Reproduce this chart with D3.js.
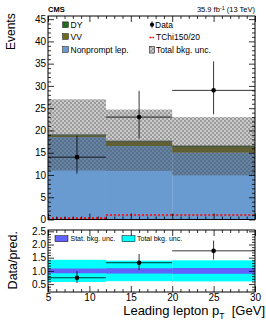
<!DOCTYPE html>
<html><head><meta charset="utf-8">
<script src="https://cdnjs.cloudflare.com/ajax/libs/d3/7.8.5/d3.min.js"></script>
<style>
html,body{margin:0;padding:0;background:#fff;}
svg{display:block;font-family:"Liberation Sans",Arial,sans-serif;}
</style></head>
<body>
<svg id="c" width="266" height="322"></svg>
<script>
// ---- data ----
const binEdges = [5, 12, 20, 30];
const nonprompt = [18.5, 16.5, 15.0];
const vv = [0.4, 1.0, 1.3];
const dy = [0.1, 0.1, 0.2];
const totUncLow = [11.0, 10.9, 9.9];
const totUncHigh = [27.0, 24.7, 23.0];
const dataX = [8.5, 16, 25];
const dataCounts = [14, 23, 29];
const dataLow = [10.3, 18.2, 23.6];
const dataHigh = [18.8, 28.9, 35.5];
const signal = [0.3, 1.0, 1.0];
const ratio = [0.74, 1.31, 1.76];
const ratioLow = [0.54, 1.03, 1.43];
const ratioHigh = [0.99, 1.64, 2.15];
const statUnc = [0.09, 0.10, 0.11];
const totUncRatio = [0.42, 0.39, 0.40];
const xTicks = [5, 10, 15, 20, 25, 30];
const yTicks = [0, 5, 10, 15, 20, 25, 30, 35, 40, 45];
const rTicks = [0.5, 1.0, 1.5, 2.0, 2.5];

const svg = d3.select("#c");
const x = d3.scaleLinear([5, 30], [48, 255]);
const y = d3.scaleLinear([0, 45.7], [219.5, 16]);
const yr = d3.scaleLinear([0.2, 2.55], [292, 230]);

const cNon = "#6a9bd0", cVV = "#6b6b1e", cDY = "#1e6e1e";

const defs = svg.append("defs");
const pat = defs.append("pattern").attr("id", "hatch").attr("patternUnits", "userSpaceOnUse")
  .attr("width", 4).attr("height", 4);
pat.append("rect").attr("width", 4).attr("height", 4).attr("fill", "rgba(80,80,80,0.30)");
pat.append("rect").attr("width", 2).attr("height", 2).attr("fill", "rgba(80,80,80,0.38)");
pat.append("rect").attr("x", 2).attr("y", 2).attr("width", 2).attr("height", 2).attr("fill", "rgba(80,80,80,0.38)");

const bins = d3.range(3);
const main = svg.append("g");
// stack
bins.forEach(i => {
  const x0 = x(binEdges[i]), x1 = x(binEdges[i + 1]);
  let base = 0;
  [[nonprompt[i], cNon], [vv[i], cVV], [dy[i], cDY]].forEach(([v, c]) => {
    main.append("rect").attr("x", x0).attr("width", x1 - x0)
      .attr("y", y(base + v)).attr("height", y(base) - y(base + v)).attr("fill", c);
    base += v;
  });
  main.append("line").attr("x1", x0).attr("x2", x1).attr("y1", y(base)).attr("y2", y(base))
    .attr("stroke", "#333").attr("stroke-width", 0.8);
  main.append("rect").attr("x", x0).attr("width", x1 - x0)
    .attr("y", y(totUncHigh[i])).attr("height", y(totUncLow[i]) - y(totUncHigh[i]))
    .attr("fill", "url(#hatch)");
  // signal
  main.append("line").attr("x1", x0).attr("x2", x1).attr("y1", y(signal[i])).attr("y2", y(signal[i]))
    .attr("stroke", "#ff0000").attr("stroke-width", 1.6).attr("stroke-dasharray", "2,2");
});
// data
bins.forEach(i => {
  main.append("line").attr("x1", x(binEdges[i])).attr("x2", x(binEdges[i + 1]))
    .attr("y1", y(dataCounts[i])).attr("y2", y(dataCounts[i])).attr("stroke", "#000").attr("stroke-width", 0.8);
  main.append("line").attr("x1", x(dataX[i])).attr("x2", x(dataX[i]))
    .attr("y1", y(dataLow[i])).attr("y2", y(dataHigh[i])).attr("stroke", "#000").attr("stroke-width", 0.8);
  main.append("circle").attr("cx", x(dataX[i])).attr("cy", y(dataCounts[i])).attr("r", 2.3).attr("fill", "#000");
});

function frameAxes(yScale, yMaj, yMin, xLabels, yFmt, fs) {
  const g = svg.append("g").attr("font-size", fs);
  const top = yScale.range()[1], bot = yScale.range()[0];
  const xMin = d3.range(5, 31, 1).filter(v => v % 5 !== 0);
  const bottom = g.append("g").attr("transform", `translate(0,${bot})`);
  bottom.call(d3.axisBottom(x).tickValues(xTicks).tickSize(-6).tickPadding(2)
    .tickFormat(xLabels ? d3.format("d") : () => ""));
  bottom.append("g").call(d3.axisBottom(x).tickValues(xMin).tickSize(-3).tickFormat(() => ""));
  const topA = g.append("g").attr("transform", `translate(0,${top})`);
  topA.call(d3.axisTop(x).tickValues(xTicks).tickSize(-6).tickFormat(() => ""));
  topA.append("g").call(d3.axisTop(x).tickValues(xMin).tickSize(-3).tickFormat(() => ""));
  const left = g.append("g").attr("transform", "translate(48,0)");
  left.call(d3.axisLeft(yScale).tickValues(yMaj).tickSize(-6).tickPadding(2).tickFormat(yFmt));
  left.append("g").call(d3.axisLeft(yScale).tickValues(yMin).tickSize(-3).tickFormat(() => ""));
  const right = g.append("g").attr("transform", "translate(255,0)");
  right.call(d3.axisRight(yScale).tickValues(yMaj).tickSize(-6).tickFormat(() => ""));
  right.append("g").call(d3.axisRight(yScale).tickValues(yMin).tickSize(-3).tickFormat(() => ""));
  g.selectAll(".tick line").attr("stroke", "#000").attr("stroke-width", 0.8);
  g.selectAll("text").attr("fill", "#000").attr("font-family", "Liberation Sans, Arial, sans-serif");
  g.selectAll(".domain").remove();
  g.append("rect").attr("x", 48).attr("y", top).attr("width", 207).attr("height", bot - top)
    .attr("fill", "none").attr("stroke", "#000").attr("stroke-width", 1);
  return g;
}
const yMinor = d3.range(0, 46, 1).filter(v => v % 5 !== 0);
frameAxes(y, yTicks, yMinor, false, d3.format("d"), 9.5);

// ratio panel
const rp = svg.append("g");
bins.forEach(i => {
  const x0 = x(binEdges[i]), x1 = x(binEdges[i + 1]);
  rp.append("rect").attr("x", x0).attr("width", x1 - x0)
    .attr("y", yr(1 + totUncRatio[i])).attr("height", yr(1 - totUncRatio[i]) - yr(1 + totUncRatio[i]))
    .attr("fill", "#00ffff");
  rp.append("rect").attr("x", x0).attr("width", x1 - x0)
    .attr("y", yr(1 + statUnc[i])).attr("height", yr(1 - statUnc[i]) - yr(1 + statUnc[i]))
    .attr("fill", "#6262ff");
});
bins.forEach(i => {
  rp.append("line").attr("x1", x(binEdges[i])).attr("x2", x(binEdges[i + 1]))
    .attr("y1", yr(ratio[i])).attr("y2", yr(ratio[i])).attr("stroke", "#000").attr("stroke-width", 0.8);
  rp.append("line").attr("x1", x(dataX[i])).attr("x2", x(dataX[i]))
    .attr("y1", yr(ratioLow[i])).attr("y2", yr(ratioHigh[i])).attr("stroke", "#000").attr("stroke-width", 0.8);
  rp.append("circle").attr("cx", x(dataX[i])).attr("cy", yr(ratio[i])).attr("r", 2.3).attr("fill", "#000");
});
const rMinor = d3.range(3, 26, 1).map(v => v / 10).filter(v => Math.round(v * 10) % 5 !== 0);
frameAxes(yr, rTicks, rMinor, true, d3.format(".1f"), 8.5);

// ratio legend
const rl = svg.append("g").attr("font-size", 7);
rl.append("rect").attr("x", 55).attr("y", 235.7).attr("width", 13).attr("height", 6).attr("fill", "#6262ff").attr("stroke", "#000").attr("stroke-width", 0.5);
rl.append("text").attr("x", 70.5).attr("y", 241.3).text("Stat. bkg. unc.");
rl.append("rect").attr("x", 122).attr("y", 235.7).attr("width", 13).attr("height", 6).attr("fill", "#00ffff").attr("stroke", "#000").attr("stroke-width", 0.5);
rl.append("text").attr("x", 137).attr("y", 241.3).text("Total bkg. unc.");

// main legend
const lg = svg.append("g").attr("font-size", 8.5);
const leftEntries = [["DY", cDY], ["VV", cVV], ["Nonprompt lep.", cNon]];
const rowY = [24.7, 36.5, 49.5];
leftEntries.forEach(([t, c], k) => {
  lg.append("rect").attr("x", 62.7).attr("y", rowY[k] - 2.8).attr("width", 5.6).attr("height", 5.6)
    .attr("fill", c).attr("stroke", "#000").attr("stroke-width", 0.5);
  lg.append("text").attr("x", 70.5).attr("y", rowY[k] + 3).text(t);
});
lg.append("line").attr("x1", 152).attr("x2", 152).attr("y1", rowY[0] - 3.5).attr("y2", rowY[0] + 3.5).attr("stroke", "#000").attr("stroke-width", 0.7);
lg.append("circle").attr("cx", 152).attr("cy", rowY[0]).attr("r", 2.1).attr("fill", "#000");
lg.append("text").attr("x", 155).attr("y", rowY[0] + 3).text("Data");
lg.append("line").attr("x1", 149.5).attr("x2", 154).attr("y1", rowY[1] + 1).attr("y2", rowY[1] + 1)
  .attr("stroke", "#ff0000").attr("stroke-width", 1.5).attr("stroke-dasharray", "2,1");
lg.append("text").attr("x", 156).attr("y", rowY[1] + 3).text("TChi150/20");
lg.append("rect").attr("x", 149.7).attr("y", rowY[2] - 3).attr("width", 5).attr("height", 6.6)
  .attr("fill", "url(#hatch)").attr("stroke", "#000").attr("stroke-width", 0.5);
lg.append("text").attr("x", 156).attr("y", rowY[2] + 3).text("Total bkg. unc.");

// titles
svg.append("text").attr("x", 48).attr("y", 12).attr("font-size", 7.5).attr("font-weight", "bold").text("CMS");
const lum = svg.append("text").attr("x", 255).attr("y", 12).attr("font-size", 7.5).attr("text-anchor", "end");
lum.append("tspan").text("35.9 fb");
lum.append("tspan").attr("font-size", 5.5).attr("dy", -2.5).text("-1");
lum.append("tspan").attr("dy", 2.5).text(" (13 TeV)");

svg.append("text").attr("transform", "translate(14.6,13.3) rotate(-90)").attr("text-anchor", "end")
  .attr("font-size", 12).text("Events");
svg.append("text").attr("transform", "translate(17,231) rotate(-90)").attr("text-anchor", "end")
  .attr("font-size", 12.5).text("Data/pred.");
const xl = svg.append("text").attr("x", 265).attr("y", 315).attr("text-anchor", "end").attr("font-size", 13);
xl.append("tspan").text("Leading lepton p");
xl.append("tspan").attr("font-size", 8.5).attr("dy", 3.5).text("T");
xl.append("tspan").attr("dy", -3.5).text("\u00a0\u00a0[GeV]");
</script>
</body></html>
